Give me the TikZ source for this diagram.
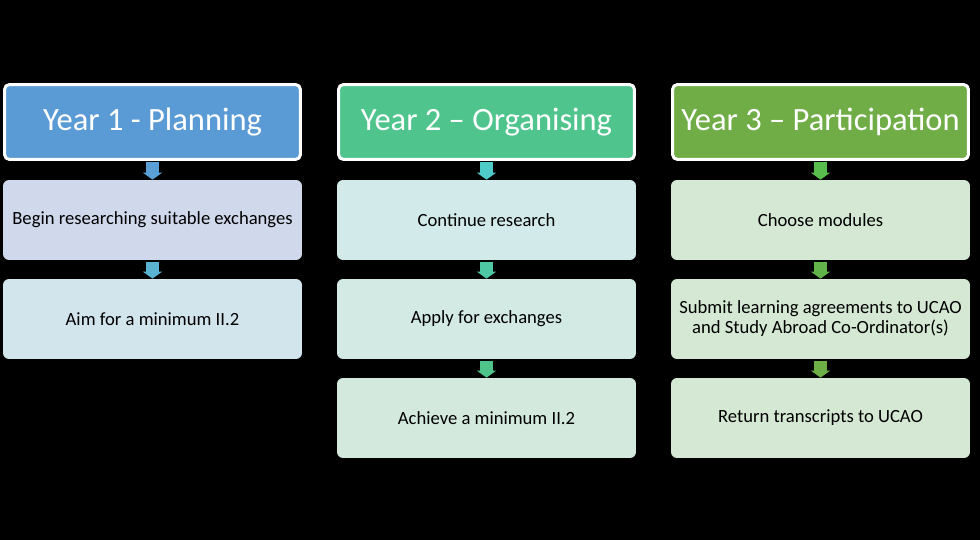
\documentclass[tikz,border=0pt]{standalone}
\usepackage{fontspec}
\setmainfont{Carlito}
\usetikzlibrary{arrows.meta}

\definecolor{hdrA}{HTML}{5B9BD5}
\definecolor{hdrB}{HTML}{50C48D}
\definecolor{hdrC}{HTML}{70AD47}
\definecolor{subAa}{HTML}{D0D8EC}
\definecolor{subAb}{HTML}{D2E4EC}
\definecolor{subBa}{HTML}{D2EAEA}
\definecolor{subBb}{HTML}{D2E9E4}
\definecolor{subBc}{HTML}{D4E9DD}
\definecolor{subCa}{HTML}{D5E8D4}
\definecolor{arrAa}{HTML}{5A9FD6}
\definecolor{arrAb}{HTML}{5AB3D2}
\definecolor{arrBa}{HTML}{4ECBC8}
\definecolor{arrBb}{HTML}{4EC8A4}
\definecolor{arrBc}{HTML}{4EC38A}
\definecolor{arrCa}{HTML}{58BD4C}
\definecolor{arrCb}{HTML}{62B44A}
\definecolor{arrCc}{HTML}{6BAF46}

\begin{document}
\begin{tikzpicture}[
  x=0.02cm, y=-0.02cm,
  year/.style={draw=white, line width=0.06cm, rounded corners=0.1cm, minimum width=5.92cm, minimum height=1.5cm, text=white, font=\fontsize{18.5}{21}\selectfont},
  task/.style={rounded corners=0.12cm, minimum width=5.98cm, minimum height=1.6cm, align=center, font=\fontsize{10.6}{11.4}\selectfont},
  flow/.style={line width=0.26cm, line cap=butt, -{Triangle[width=0.38cm 0, length=0.14cm 0]}, shorten <=0.03cm},
]

% Background
\fill[black] (0,0) rectangle (980,540);
\useasboundingbox (0,0) rectangle (980,540);

% Year 1 column
\node[year, fill=hdrA] (y1) at (152.5,122) {Year 1 - Planning};
\node[task, fill=subAa] (t11) at (152.5,220) {Begin researching suitable exchanges};
\node[task, fill=subAb] (t12) at (152.5,319) {Aim for a minimum II.2};
\draw[flow, arrAa] (y1.south) -- (t11.north);
\draw[flow, arrAb] (t11.south) -- (t12.north);

% Year 2 column
\node[year, fill=hdrB] (y2) at (486.5,122) {Year 2 -- Organising};
\node[task, fill=subBa] (t21) at (486.5,220) {Continue research};
\node[task, fill=subBb] (t22) at (486.5,319) {Apply for exchanges};
\node[task, fill=subBc] (t23) at (486.5,418) {Achieve a minimum II.2};
\draw[flow, arrBa] (y2.south) -- (t21.north);
\draw[flow, arrBb] (t21.south) -- (t22.north);
\draw[flow, arrBc] (t22.south) -- (t23.north);

% Year 3 column
\node[year, fill=hdrC] (y3) at (820.5,122) {Year 3 -- Participation};
\node[task, fill=subCa] (t31) at (820.5,220) {Choose modules};
\node[task, fill=subCa] (t32) at (820.5,319) {Submit learning agreements to UCAO\\and Study Abroad Co-Ordinator(s)};
\node[task, fill=subCa] (t33) at (820.5,418) {Return transcripts to UCAO};
\draw[flow, arrCa] (y3.south) -- (t31.north);
\draw[flow, arrCb] (t31.south) -- (t32.north);
\draw[flow, arrCc] (t32.south) -- (t33.north);

\end{tikzpicture}
\end{document}
